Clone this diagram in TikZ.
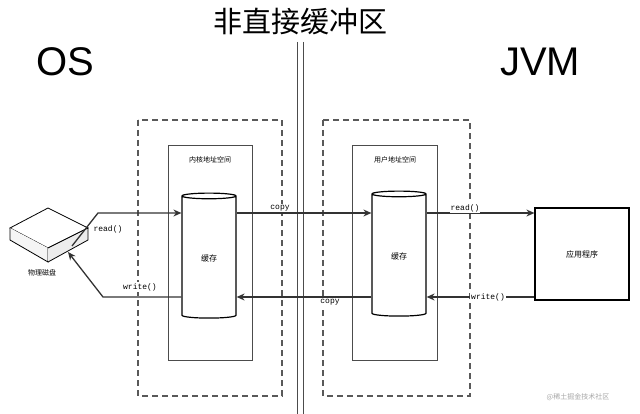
\documentclass[tikz,border=0pt]{standalone}
\usepackage{fontspec}
\setmainfont{Liberation Sans}
\setmonofont{Liberation Mono}
\newfontfamily\cjk{Noto Sans CJK SC}
\usetikzlibrary{shapes.geometric,positioning,arrows.meta}

\begin{document}
\begin{tikzpicture}[x=1pt,y=-1pt,>={Stealth[length=8pt,width=7pt]}]
  \tikzstyle{dbox} = [draw=gray!70!black, line width=1.2pt, dash pattern=on 6pt off 4pt]
  \tikzstyle{sbox} = [draw=gray!60!black, thick]
  \tikzstyle{cyl} = [cylinder, shape border rotate=90, draw=black, line width=1.2pt, aspect=0.25, minimum width=54pt, minimum height=125pt, font=\cjk\footnotesize]
  \tikzstyle{lbl} = [font=\ttfamily\footnotesize, fill=white, inner sep=1pt]
  \tikzstyle{flow} = [->, line width=1.3pt, draw=black!80]

  \useasboundingbox (0,0) rectangle (640,414);
  % titles
  \node (title) at (300,22) {\cjk\fontsize{29}{31}\selectfont 非直接缓冲区};
  \node (os) at (65,62) {\fontsize{40}{42}\selectfont OS};
  \node (jvm) at (540,62) {\fontsize{40}{42}\selectfont JVM};
  % divider
  \draw[sbox] (297,42) -- (297,414);
  \draw[sbox] (303,42) -- (303,414);

  % kernel and user spaces
  \draw[dbox] (138,120) rectangle (282,396);
  \draw[dbox] (323,120) rectangle (470,396);
  \draw[sbox] (168,145) rectangle (252,360);
  \draw[sbox] (352,145) rectangle (437,360);
  \node (kernel) at (210,160) {\cjk\scriptsize 内核地址空间};
  \node (user) at (395,160) {\cjk\scriptsize 用户地址空间};
  \node (kbuf) [cyl] at (209,258) {缓存};
  \node (ubuf) [cyl] at (399,256) {缓存};

  % disk
  \draw[thick, fill=white] (10,228) -- (48,208) -- (88,228) -- (48,248) -- cycle;
  \draw[thick, fill=gray!8] (10,228) -- (10,240) -- (48,262) -- (48,248);
  \draw[thick, fill=gray!15] (48,262) -- (88,240) -- (88,228) -- (48,248);
  \coordinate (disk) at (72,246);
  \coordinate (diskin) at (68,252);
  \node (disklbl) at (42,273) {\cjk\scriptsize 物理磁盘};

  % application
  \node (app) [draw, line width=1.2pt, minimum width=94pt, minimum height=92pt, font=\cjk\footnotesize] at (582,254) {应用程序};

  % connectors
  \draw[flow] (disk) -- (98,213) -- (kbuf.west |- 0,213);
  \node (r1) [lbl] at (108,229) {read()};
  \draw[flow] (kbuf.west |- 0,297) -- (103,297) -- (diskin);
  \node (w1) [lbl] at (140,287) {write()};
  \draw[flow] (kbuf.east |- 0,213) -- (ubuf.west |- 0,213);
  \node (c1) [lbl] at (280,208) {copy};
  \draw[flow] (ubuf.west |- 0,297) -- (kbuf.east |- 0,297);
  \node (c2) [lbl] at (330,302) {copy};
  \draw[flow] (ubuf.east |- 0,213) -- (app.west |- 0,213);
  \node (r2) [lbl] at (465,208) {read()};
  \draw[flow] (app.west |- 0,297) -- (ubuf.east |- 0,297);
  \node (w2) [lbl] at (488,297) {write()};

  \node (mark) [text=gray!70, font=\cjk\scriptsize] at (578,397) {@稀土掘金技术社区};
\end{tikzpicture}
\end{document}
